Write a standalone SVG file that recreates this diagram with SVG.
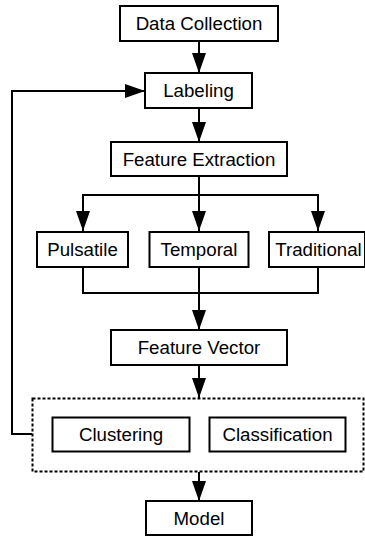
<svg xmlns="http://www.w3.org/2000/svg" width="365" height="537" viewBox="0 0 365 537">
  <style>
    .box { fill: #ffffff; stroke: #000000; stroke-width: 2; }
    .group { fill: none; stroke: #000000; stroke-width: 2; stroke-dasharray: 3 2; }
    .label { font-family: "Liberation Sans", Arial, sans-serif; font-size: 18.7px; fill: #000000; text-anchor: middle; }
    .wire { fill: none; stroke: #000000; stroke-width: 2; }
  </style>
  <defs>
    <marker id="head" markerUnits="userSpaceOnUse" markerWidth="20" markerHeight="14" refX="20" refY="7" orient="auto">
      <path d="M0,0 L20,7 L0,14 Z" fill="#000000"/>
    </marker>
  </defs>

  <rect width="365" height="537" fill="#ffffff"/>

  <!-- connectors -->
  <g id="connectors">
    <line class="wire" x1="199" y1="41" x2="199" y2="73" marker-end="url(#head)"/>
    <line class="wire" x1="199" y1="108" x2="199" y2="142" marker-end="url(#head)"/>
    <!-- fan-out to the three feature families -->
    <line class="wire" x1="199" y1="176" x2="199" y2="231" marker-end="url(#head)"/>
    <polyline class="wire" points="83,231 83,195 318,195 318,231"/>
    <line class="wire" x1="83" y1="210" x2="83" y2="231" marker-end="url(#head)"/>
    <line class="wire" x1="318" y1="210" x2="318" y2="231" marker-end="url(#head)"/>
    <!-- merge into the feature vector -->
    <polyline class="wire" points="83,267 83,293 318,293 318,267"/>
    <line class="wire" x1="199" y1="267" x2="199" y2="330" marker-end="url(#head)"/>
    <line class="wire" x1="199" y1="365" x2="199" y2="398" marker-end="url(#head)"/>
    <line class="wire" x1="199" y1="472" x2="199" y2="501" marker-end="url(#head)"/>
    <!-- feedback loop back to labeling -->
    <polyline class="wire" points="32,434 12,434 12,91 145,91" marker-end="url(#head)"/>
  </g>

  <g id="data-collection">
    <rect class="box" x="120" y="6" width="158" height="35"/>
    <text class="label" x="199" y="30">Data Collection</text>
  </g>

  <g id="labeling">
    <rect class="box" x="145" y="73" width="107" height="35"/>
    <text class="label" x="198.5" y="97">Labeling</text>
  </g>

  <g id="feature-extraction">
    <rect class="box" x="111" y="142" width="176" height="34"/>
    <text class="label" x="199" y="165.5">Feature Extraction</text>
  </g>

  <g id="pulsatile">
    <rect class="box" x="37" y="232" width="91" height="35"/>
    <text class="label" x="82.5" y="256">Pulsatile</text>
  </g>

  <g id="temporal">
    <rect class="box" x="149.5" y="232" width="99" height="35"/>
    <text class="label" x="199" y="256">Temporal</text>
  </g>

  <g id="traditional">
    <rect class="box" x="269" y="232" width="96" height="35"/>
    <text class="label" x="318.5" y="256">Traditional</text>
  </g>

  <g id="feature-vector">
    <rect class="box" x="111" y="330" width="176" height="35"/>
    <text class="label" x="199" y="354">Feature Vector</text>
  </g>

  <g id="learning">
    <rect class="group" x="32.5" y="398.5" width="331" height="73"/>
  </g>

  <g id="clustering">
    <rect class="box" x="52.5" y="417.5" width="137" height="34"/>
    <text class="label" x="121" y="441">Clustering</text>
  </g>

  <g id="classification">
    <rect class="box" x="209.5" y="417.5" width="136" height="34"/>
    <text class="label" x="277.5" y="441">Classification</text>
  </g>

  <g id="model">
    <rect class="box" x="146" y="501" width="106" height="34"/>
    <text class="label" x="199" y="525">Model</text>
  </g>
</svg>
